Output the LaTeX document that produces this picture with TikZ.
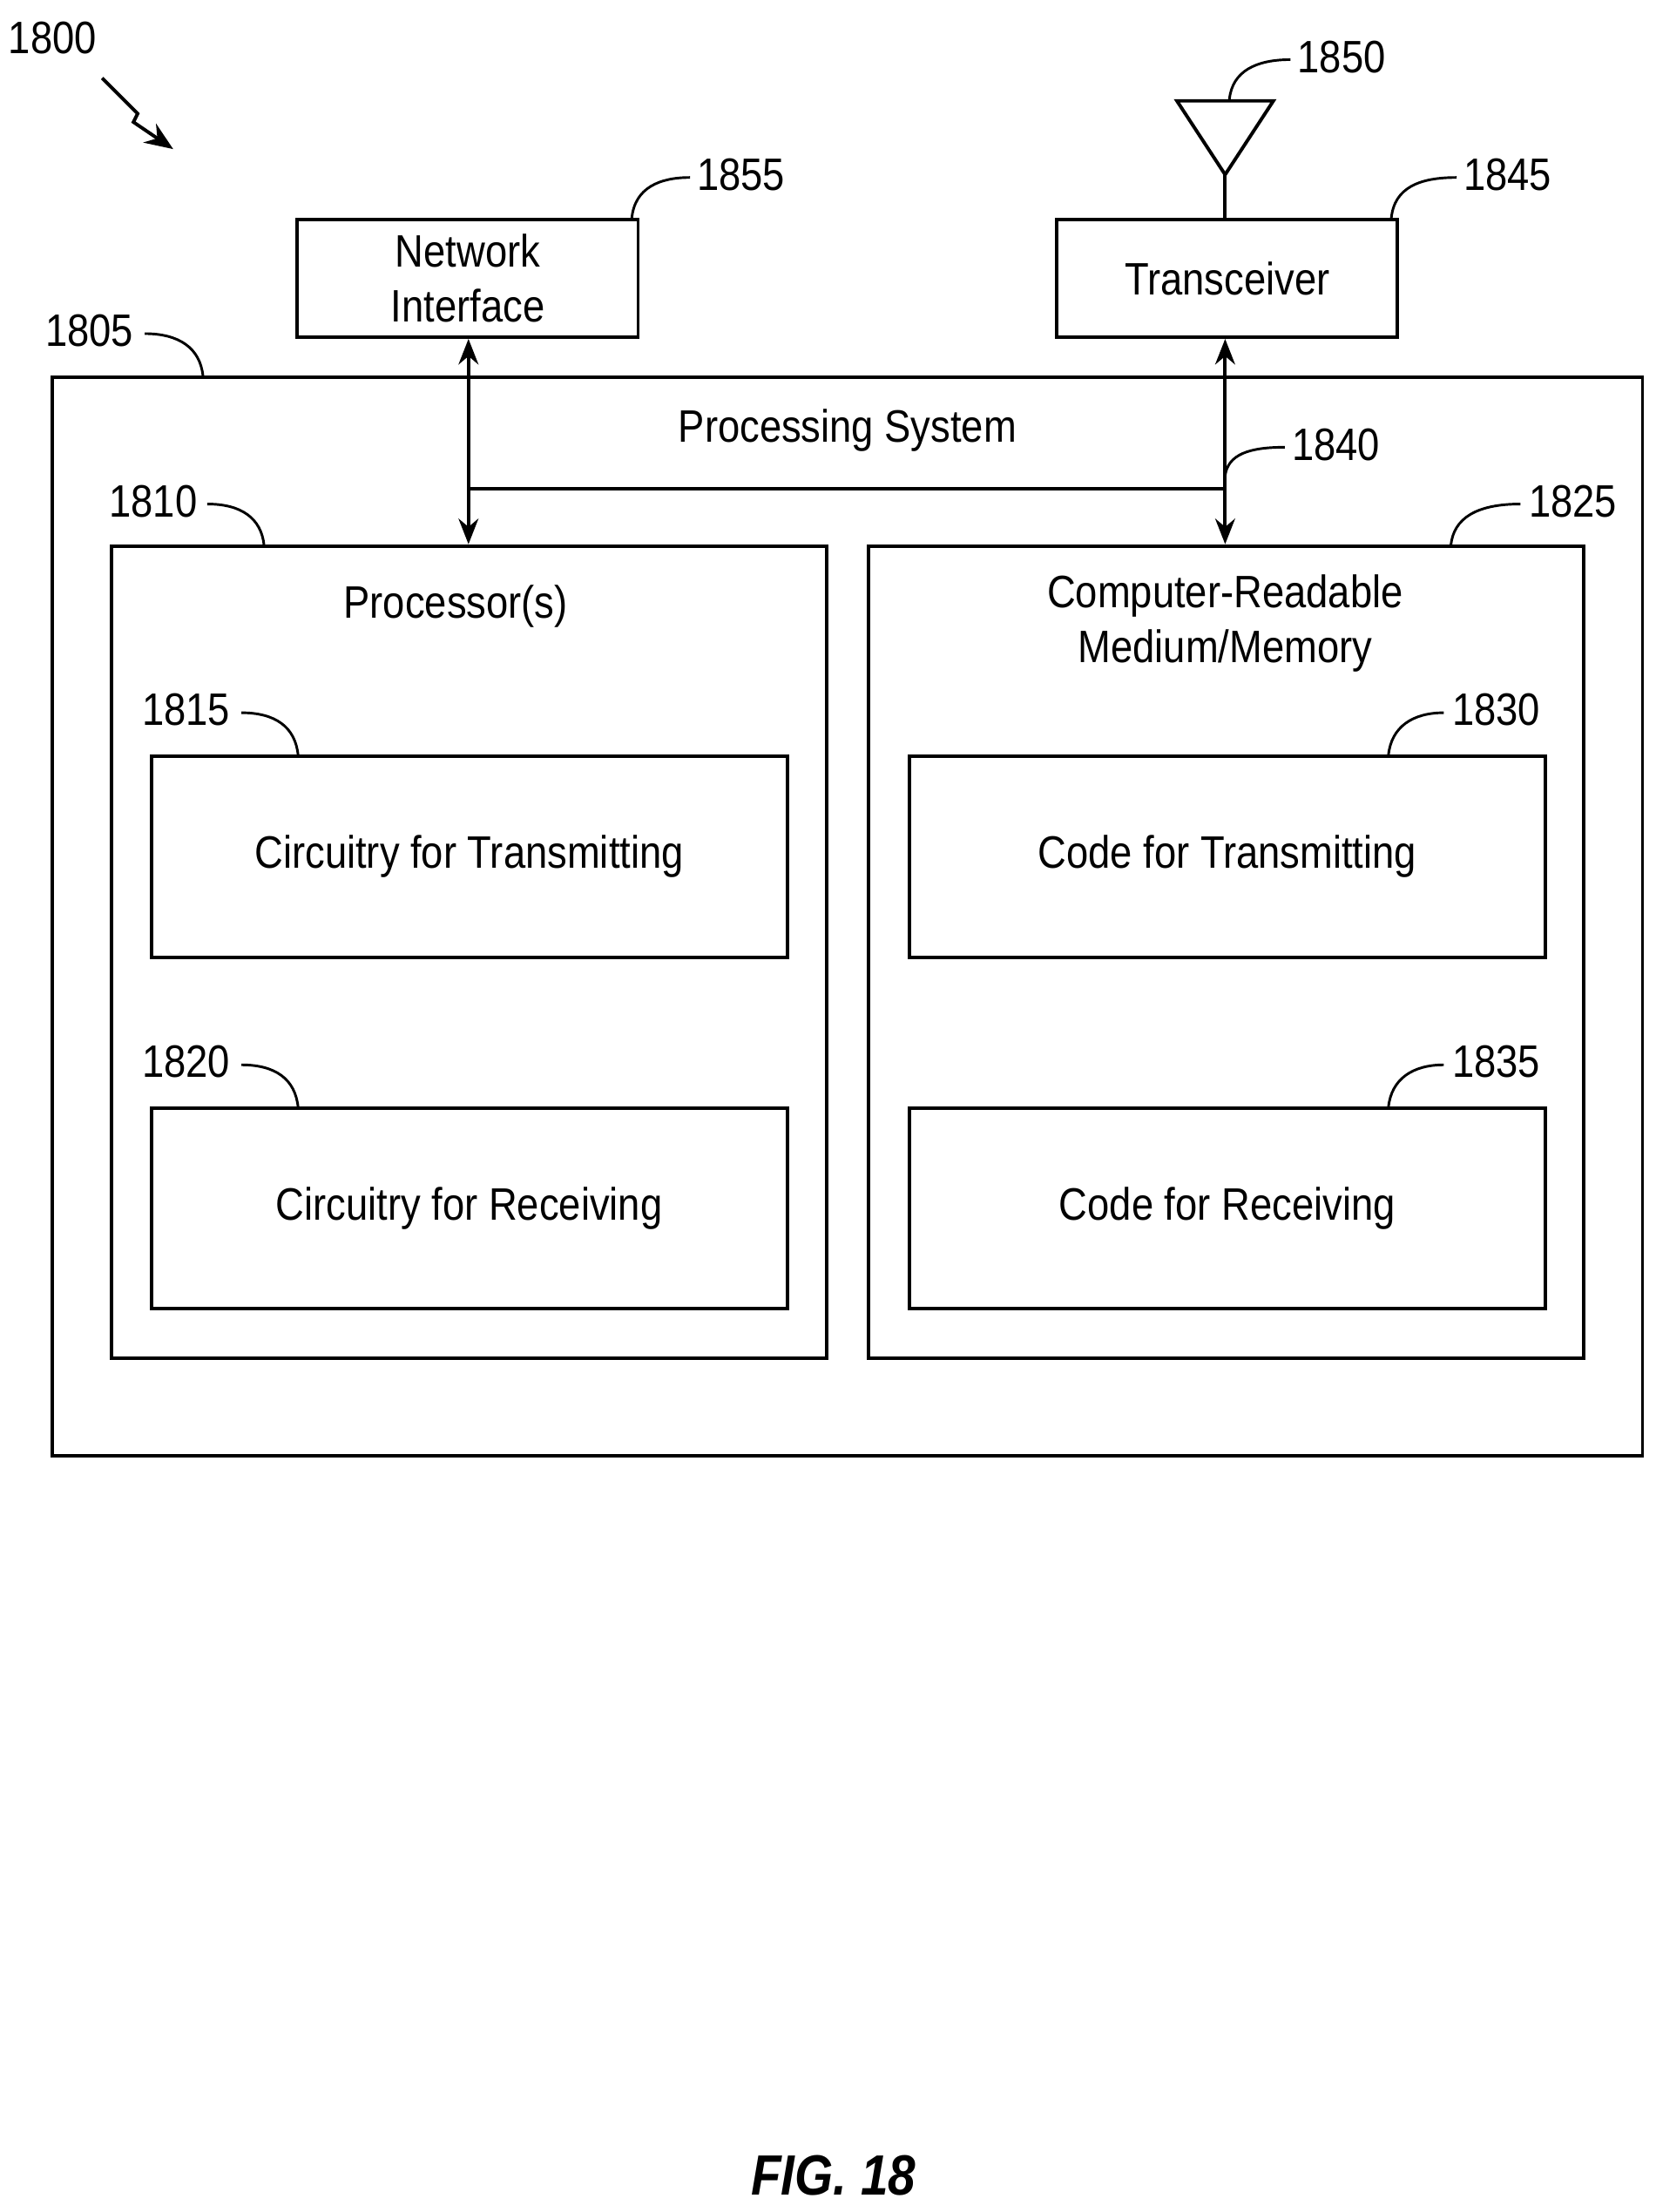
\documentclass[tikz,border=0pt]{standalone}
\usepackage{fontspec}
\setmainfont{Liberation Sans}[FakeStretch=0.87]
\usetikzlibrary{arrows.meta}
\begin{document}
\begin{tikzpicture}[x=0.5pt,y=-0.5pt,font=\fontsize{16}{19.5}\selectfont]
    % Styles
    \tikzset{
      block/.style={draw=black, line width=1.2pt, shape=rectangle, inner sep=0pt},
      none/.style={inner sep=0mm},
      leader/.style={line width=0.9pt},
      arrow/.style={line width=1.2pt, {Stealth[length=9pt,width=7pt]}-{Stealth[length=9pt,width=7pt]}},
    }
    \useasboundingbox (0,0) rectangle (1166,1558);

    % Blocks
    \node [block, minimum width=120pt, minimum height=41.5pt] (netif) at (329.5,196) {};
    \node [none, align=center] at (netif) {Network\\Interface};
    \node [block, minimum width=120pt, minimum height=41.5pt] (trx) at (864.5,196) {Transceiver};
    \node [block, minimum width=560pt, minimum height=380pt] (ps) at (597,645.5) {};
    \node [none] (pstext) at (597,303) {Processing System};
    \node [block, minimum width=252pt, minimum height=286pt] (proc) at (330.5,670.5) {};
    \node [none] at (321,427) {Processor(s)};
    \node [block, minimum width=252pt, minimum height=286pt] (mem) at (863.5,670.5) {};
    \node [none, align=center] at (863,439) {Computer-Readable\\Medium/Memory};
    \node [block, minimum width=224pt, minimum height=71pt] (ctx) at (330.5,603.5) {Circuitry for Transmitting};
    \node [block, minimum width=224pt, minimum height=70.5pt] (crx) at (330.5,851) {Circuitry for Receiving};
    \node [block, minimum width=224pt, minimum height=71pt] (kt) at (864.5,603.5) {Code for Transmitting};
    \node [block, minimum width=224pt, minimum height=70.5pt] (kr) at (864.5,851) {Code for Receiving};

    % Antenna
    \coordinate (ant) at (863,123);
    \draw [line width=1.2pt] (829,71) -- (897,71) -- (ant) -- cycle;
    \draw [line width=1.2pt] (ant) -- (trx.north -| ant);

    % Bus
    \coordinate (busl) at (330,344);
    \coordinate (busr) at (863,344);
    \draw [arrow] (netif.south -| busl) -- (proc.north -| busl);
    \draw [arrow] (trx.south -| busr) -- (mem.north -| busr);
    \draw [line width=1.2pt] (busl) -- (busr);

    % Reference numerals
    \node [none] (n1800) at (37,27) {1800};
    \draw [line width=1.2pt, -{Stealth[length=10pt,width=8pt]}] (72,55) -- (97,80) -- (94,86) -- (122,105);
    \node [none] (n1855) at (522,123) {1855};
    \draw [leader] (445,154) .. controls (447,132) and (465,125) .. (486,125);
    \node [none] (n1845) at (1062,123) {1845};
    \draw [leader] (980,154) .. controls (982,132) and (1000,125) .. (1026,125);
    \node [none] (n1850) at (945,40) {1850};
    \draw [leader] (866,70) .. controls (868,50) and (885,42) .. (909,42);
    \node [none] (n1805) at (63,233) {1805};
    \draw [leader] (102,235) .. controls (126,235) and (141,245) .. (143,265);
    \node [none] (n1840) at (941,313) {1840};
    \draw [leader] (863,335) .. controls (865,320) and (880,315) .. (905,315);
    \node [none] (n1810) at (108,353) {1810};
    \draw [leader] (146,355) .. controls (170,355) and (184,365) .. (186,384);
    \node [none] (n1825) at (1108,353) {1825};
    \draw [leader] (1022,384) .. controls (1024,365) and (1040,355) .. (1071,355);
    \node [none] (n1815) at (131,500) {1815};
    \draw [leader] (170,502) .. controls (194,502) and (208,512) .. (210,532);
    \node [none] (n1820) at (131,748) {1820};
    \draw [leader] (170,750) .. controls (194,750) and (208,760) .. (210,780);
    \node [none] (n1830) at (1054,500) {1830};
    \draw [leader] (978,532) .. controls (980,512) and (995,502) .. (1017,502);
    \node [none] (n1835) at (1054,748) {1835};
    \draw [leader] (978,780) .. controls (980,760) and (995,750) .. (1017,750);

    \node [none, font=\fontsize{20}{24}\selectfont\bfseries\itshape] (fig) at (587,1532) {FIG. 18};
\end{tikzpicture}
\end{document}
